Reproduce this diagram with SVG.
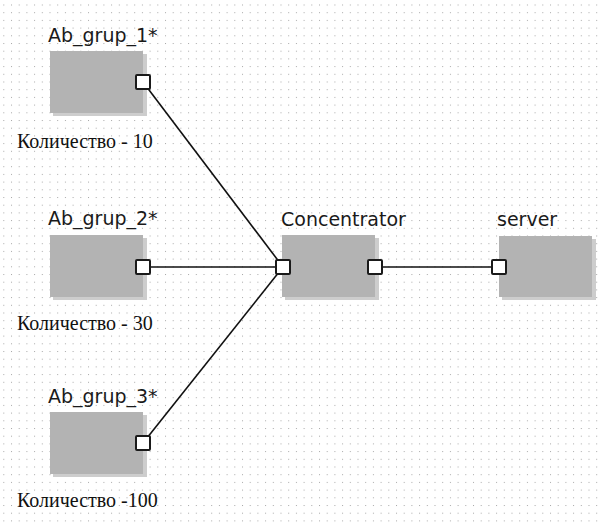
<svg xmlns="http://www.w3.org/2000/svg" width="600" height="524" viewBox="0 0 600 524">
<defs>
<pattern id="grid" x="3.3" y="4.5" width="7.7" height="7.7" patternUnits="userSpaceOnUse">
<rect x="0" y="0" width="1" height="1" fill="#a8a8a8"/>
</pattern>
</defs>
<style>
.shadow{fill:#cdcdcd}
.box{fill:#b3b3b3}
.port{fill:#ffffff;stroke:#1a1a1a;stroke-width:2}
.name{font-family:"DejaVu Sans",sans-serif;font-size:19px;fill:#1a1a1a}
.qty{font-family:"Liberation Serif",serif;font-size:20px;fill:#111}
.wire{stroke:#111;stroke-width:1.6;fill:none}
</style>
<rect width="600" height="524" fill="#ffffff"/>
<rect width="600" height="524" fill="url(#grid)"/>
<g id="connectors">
<line class="wire" x1="143" y1="82" x2="283" y2="267"/>
<line class="wire" x1="143" y1="267" x2="283" y2="267"/>
<line class="wire" x1="143" y1="443" x2="283" y2="267"/>
<line class="wire" x1="375" y1="267" x2="499" y2="267"/>
</g>
<g id="ab_grup_1">
<text class="name" x="48" y="42">Ab_grup_1*</text>
<rect class="shadow" x="53" y="54" width="94" height="62"/>
<rect class="box" x="50" y="51" width="93" height="62"/>
<rect class="port" x="136" y="75" width="14" height="14" rx="1"/>
<text class="qty" x="17" y="148">Количество - 10</text>
</g>
<g id="ab_grup_2">
<text class="name" x="48" y="225">Ab_grup_2*</text>
<rect class="shadow" x="53" y="238" width="94" height="62"/>
<rect class="box" x="50" y="235" width="93" height="62"/>
<rect class="port" x="136" y="260" width="14" height="14" rx="1"/>
<text class="qty" x="17" y="330">Количество - 30</text>
</g>
<g id="ab_grup_3">
<text class="name" x="48" y="403">Ab_grup_3*</text>
<rect class="shadow" x="53" y="415" width="94" height="62"/>
<rect class="box" x="50" y="412" width="93" height="62"/>
<rect class="port" x="136" y="436" width="14" height="14" rx="1"/>
<text class="qty" x="17" y="507">Количество -100</text>
</g>
<g id="concentrator">
<text class="name" x="281" y="226">Concentrator</text>
<rect class="shadow" x="285" y="238" width="94" height="62"/>
<rect class="box" x="282" y="235" width="93" height="62"/>
<rect class="port" x="276" y="260" width="14" height="14" rx="1"/>
<rect class="port" x="368" y="260" width="14" height="14" rx="1"/>
</g>
<g id="server">
<text class="name" x="497" y="226">server</text>
<rect class="shadow" x="502" y="239" width="94" height="61"/>
<rect class="box" x="499" y="236" width="93" height="61"/>
<rect class="port" x="492" y="260" width="14" height="14" rx="1"/>
</g>
</svg>
